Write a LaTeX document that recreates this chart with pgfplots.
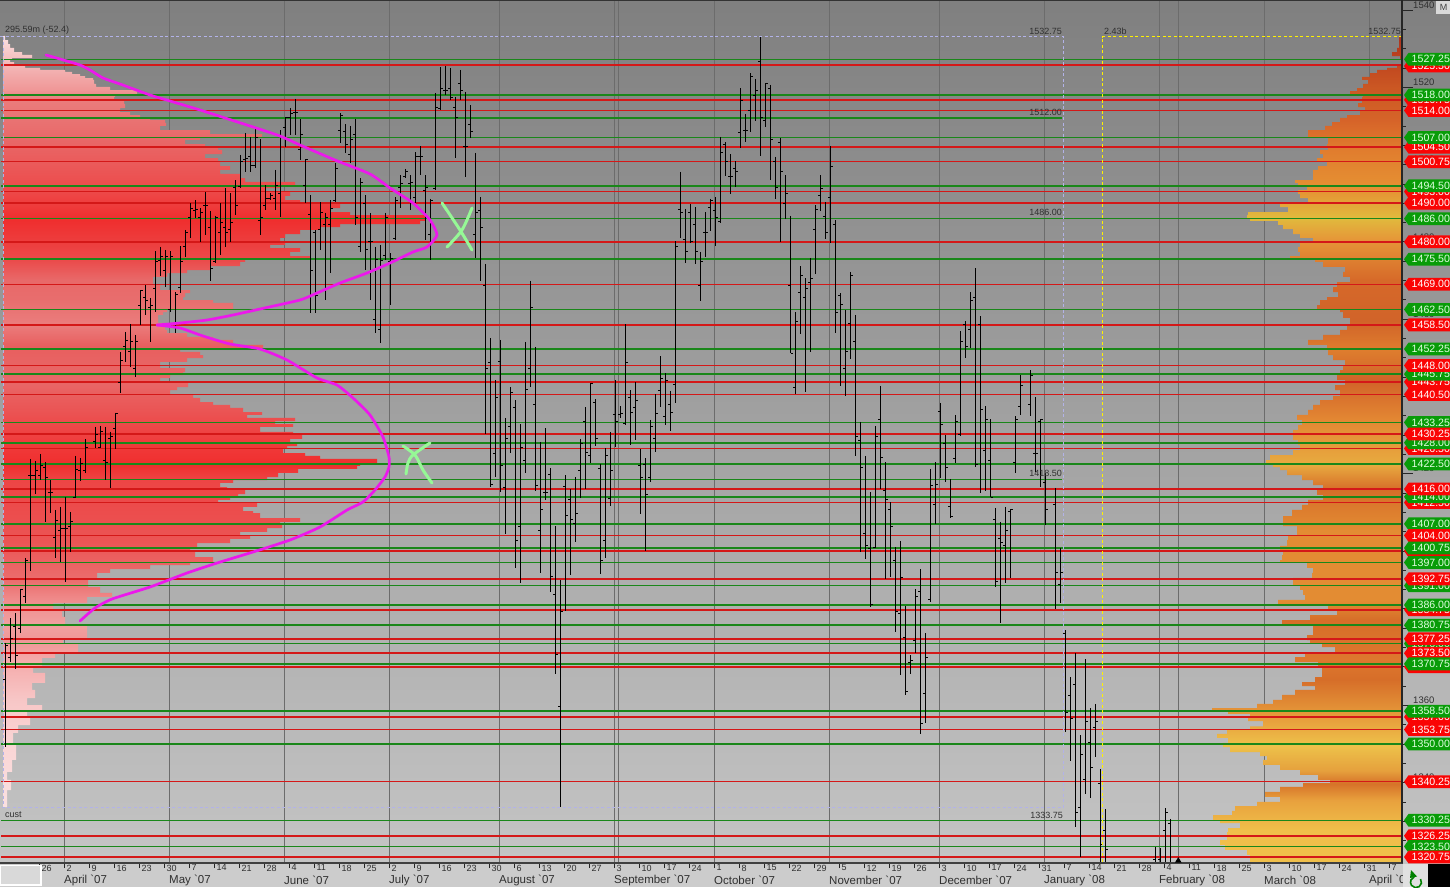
\documentclass[border=0pt]{standalone}
\usepackage{pgfplots}
\usepackage{pgfplotstable}
\usepackage{fontspec}
\setmainfont{Liberation Sans}
\pgfplotsset{compat=1.18}
\pgfdeclareverticalshading{bgshade}{100bp}{rgb(0bp)=(.77,.77,.77);rgb(25bp)=(.77,.77,.77);rgb(75bp)=(.50,.50,.50);rgb(100bp)=(.50,.50,.50)}
\pgfdeclareverticalshading{leftprof}{100bp}{rgb(0bp)=(.98,.88,.88);rgb(25bp)=(.98,.88,.88);rgb(28.7bp)=(.98,.84,.84);rgb(31.9bp)=(.97,.78,.78);rgb(34.5bp)=(.96,.67,.67);rgb(35.8bp)=(.94,.59,.59);rgb(36.8bp)=(.94,.63,.63);rgb(38.4bp)=(.94,.55,.55);rgb(39.7bp)=(.92,.43,.43);rgb(42.3bp)=(.92,.33,.33);rgb(46.2bp)=(.93,.27,.27);rgb(47.2bp)=(.94,.18,.18);rgb(48.8bp)=(.94,.24,.24);rgb(50.7bp)=(.92,.33,.33);rgb(52.7bp)=(.91,.41,.41);rgb(54.9bp)=(.91,.37,.37);rgb(56.3bp)=(.92,.49,.49);rgb(57.9bp)=(.91,.43,.43);rgb(59.2bp)=(.91,.41,.41);rgb(60.5bp)=(.92,.29,.29);rgb(63.1bp)=(.94,.18,.18);rgb(65bp)=(.93,.29,.29);rgb(68.3bp)=(.91,.41,.41);rgb(70.9bp)=(.92,.49,.49);rgb(71.5bp)=(.94,.59,.59);rgb(73.5bp)=(.96,.75,.75);rgb(75bp)=(.98,.88,.88);rgb(100bp)=(.98,.88,.88)}
\pgfdeclareverticalshading{rightprof}{100bp}{rgb(0bp)=(.94,.75,.29);rgb(27bp)=(.94,.75,.29);rgb(28.8bp)=(.91,.63,.24);rgb(29.8bp)=(.84,.45,.16);rgb(30.6bp)=(.90,.63,.24);rgb(32.1bp)=(.93,.76,.29);rgb(33.6bp)=(.91,.63,.24);rgb(36.1bp)=(.84,.43,.16);rgb(37.3bp)=(.87,.47,.18);rgb(39.7bp)=(.84,.43,.16);rgb(40.9bp)=(.89,.55,.20);rgb(45.1bp)=(.89,.55,.20);rgb(47.6bp)=(.84,.43,.16);rgb(49.1bp)=(.91,.67,.25);rgb(51.8bp)=(.89,.53,.20);rgb(54.2bp)=(.82,.39,.16);rgb(56bp)=(.87,.49,.18);rgb(57.8bp)=(.82,.39,.16);rgb(60.2bp)=(.84,.41,.16);rgb(62.7bp)=(.90,.59,.22);rgb(64bp)=(.88,.73,.24);rgb(65.7bp)=(.90,.57,.20);rgb(68.1bp)=(.88,.49,.18);rgb(69.9bp)=(.84,.39,.16);rgb(71.7bp)=(.80,.35,.14);rgb(73.5bp)=(.75,.27,.12);rgb(75bp)=(.67,.20,.12);rgb(100bp)=(.67,.20,.12)}
\definecolor{lvG}{RGB}{26,135,26}
\definecolor{lvR}{RGB}{212,24,24}
\definecolor{tagG}{RGB}{8,156,8}
\definecolor{tagR}{RGB}{250,4,4}
\definecolor{grd}{RGB}{108,108,108}
\definecolor{txt}{RGB}{48,48,48}
\definecolor{lav}{RGB}{178,178,232}
\definecolor{mag}{RGB}{236,24,236}
\definecolor{xgr}{RGB}{150,248,150}
\pgfplotstableread{
k H L O C
0 1376.1 1349.2 1366.6 1375.6
1 1382.6 1371.2 1372.5 1377.4
2 1383.9 1369.4 1380.5 1373.0
3 1390.1 1378.7 1380.0 1389.9
4 1398.2 1386.5 1388.1 1397.4
5 1423.8 1394.8 1419.4 1419.4
6 1423.3 1414.7 1419.6 1420.7
7 1425.1 1418.3 1419.6 1422.2
8 1423.0 1407.5 1421.7 1418.9
9 1418.3 1409.8 1415.0 1415.0
10 1410.6 1398.2 1403.6 1408.0
11 1411.4 1397.1 1405.4 1405.9
12 1413.9 1391.9 1405.9 1405.9
13 1410.1 1399.7 1406.4 1407.5
14 1424.6 1413.7 1413.9 1421.2
15 1424.0 1418.1 1420.9 1422.7
16 1429.0 1420.2 1420.7 1426.9
18 1432.1 1426.6 1428.4 1430.2
19 1432.3 1426.6 1426.9 1430.8
20 1432.1 1418.3 1423.3 1423.0
21 1430.8 1416.3 1429.2 1429.5
22 1435.7 1426.4 1431.8 1435.7
23 1451.5 1440.9 1443.7 1449.4
24 1456.7 1448.9 1453.0 1454.6
25 1458.7 1447.6 1451.5 1454.3
26 1455.9 1445.0 1447.3 1454.3
27 1467.5 1458.5 1463.6 1467.3
28 1468.8 1461.1 1465.5 1464.9
29 1465.5 1454.1 1462.9 1463.6
30 1477.6 1461.8 1468.0 1475.0
31 1478.7 1471.2 1475.3 1476.3
32 1477.9 1468.3 1472.7 1476.1
33 1477.6 1461.8 1462.4 1476.1
34 1467.0 1456.4 1457.9 1466.5
35 1478.9 1466.7 1468.3 1474.8
36 1483.1 1476.1 1478.7 1482.3
37 1490.0 1481.0 1486.2 1488.7
38 1490.8 1486.2 1488.2 1488.5
39 1488.7 1480.0 1486.4 1487.7
40 1492.9 1481.8 1489.5 1489.5
41 1488.0 1469.9 1483.6 1473.2
42 1486.7 1474.5 1474.8 1486.2
43 1490.0 1476.6 1482.5 1485.1
44 1493.9 1478.7 1483.6 1482.5
45 1492.6 1480.0 1483.1 1485.1
46 1496.0 1486.9 1494.2 1489.5
47 1502.5 1493.9 1494.4 1500.9
48 1508.2 1498.1 1501.2 1501.7
49 1507.1 1498.1 1502.2 1499.9
50 1509.7 1499.1 1499.9 1506.9
51 1506.6 1481.8 1485.6 1486.2
52 1494.7 1488.2 1489.5 1491.3
53 1492.6 1490.8 1491.3 1492.1
54 1498.6 1488.2 1491.3 1494.7
55 1508.9 1486.4 1492.6 1507.1
56 1512.3 1504.5 1509.7 1512.1
57 1514.6 1507.7 1512.3 1513.3
58 1517.0 1507.7 1513.6 1513.6
59 1511.8 1501.2 1503.8 1507.9
60 1501.4 1490.0 1494.7 1501.2
61 1492.1 1461.6 1487.2 1472.7
62 1483.1 1461.6 1482.5 1466.0
63 1490.3 1477.9 1483.1 1487.5
64 1487.5 1464.9 1484.4 1486.2
65 1490.8 1471.9 1484.4 1488.7
66 1500.4 1490.3 1490.6 1498.9
67 1513.3 1505.6 1508.9 1512.8
68 1510.5 1503.0 1508.7 1505.1
69 1510.0 1500.4 1502.5 1506.6
70 1511.8 1484.4 1507.7 1486.2
71 1496.5 1477.4 1478.7 1495.5
72 1492.1 1472.7 1490.0 1477.9
73 1487.5 1464.9 1480.2 1480.2
74 1478.7 1456.4 1459.8 1475.5
75 1479.2 1453.8 1457.2 1475.3
76 1487.5 1475.3 1476.6 1486.4
77 1477.1 1463.6 1474.8 1475.8
78 1491.6 1480.5 1481.0 1490.6
79 1497.3 1488.7 1494.2 1495.2
80 1498.9 1496.5 1497.0 1498.1
81 1497.3 1488.2 1495.2 1495.5
82 1503.2 1490.0 1491.6 1502.2
83 1504.8 1497.3 1502.0 1502.0
84 1497.3 1480.5 1493.4 1494.2
85 1491.1 1475.3 1481.8 1490.8
86 1518.5 1493.4 1493.7 1514.9
87 1525.3 1514.1 1514.6 1519.8
88 1525.5 1518.0 1519.3 1519.3
89 1525.0 1516.7 1519.8 1517.5
90 1517.5 1501.7 1514.9 1512.3
91 1524.5 1516.7 1521.1 1519.3
92 1518.8 1496.8 1504.8 1504.8
93 1515.4 1506.9 1510.5 1508.7
94 1503.0 1475.8 1481.8 1487.7
95 1491.6 1469.9 1488.2 1483.8
96 1474.3 1430.2 1468.6 1447.3
97 1455.1 1416.5 1448.9 1417.3
98 1444.2 1419.1 1425.1 1439.8
99 1454.6 1415.2 1449.1 1422.2
100 1434.4 1404.4 1416.5 1429.2
101 1442.4 1425.4 1432.3 1440.9
102 1439.0 1395.6 1437.2 1402.8
103 1432.8 1391.7 1406.2 1426.9
104 1454.1 1420.2 1423.5 1441.9
105 1469.9 1442.4 1447.3 1463.1
106 1452.8 1415.5 1437.8 1417.0
107 1428.2 1394.3 1405.4 1410.6
108 1431.8 1413.2 1415.0 1415.0
109 1421.4 1389.4 1419.9 1393.5
110 1406.4 1368.1 1388.8 1373.3
111 1392.5 1333.7 1359.6 1384.2
112 1419.6 1384.4 1416.8 1409.3
113 1416.0 1393.8 1413.2 1408.2
114 1419.1 1402.3 1407.2 1409.8
115 1429.0 1413.7 1420.9 1427.7
116 1437.2 1416.0 1433.4 1425.6
117 1443.4 1422.7 1424.8 1443.4
118 1439.3 1427.1 1438.5 1429.2
119 1422.5 1394.0 1421.4 1397.6
120 1426.6 1398.2 1402.6 1424.8
121 1430.8 1411.6 1413.7 1420.7
122 1444.2 1426.9 1435.4 1433.4
123 1437.5 1434.4 1435.2 1435.7
124 1458.7 1432.6 1433.1 1448.9
125 1441.6 1427.4 1439.8 1435.9
126 1443.7 1428.7 1437.2 1439.0
127 1426.4 1409.5 1422.0 1419.1
128 1424.0 1400.0 1422.5 1414.7
129 1433.9 1417.8 1418.9 1432.1
130 1440.6 1425.6 1429.2 1435.7
131 1450.4 1437.2 1441.4 1444.7
132 1446.0 1432.6 1434.9 1444.0
133 1441.4 1431.0 1438.0 1435.9
134 1480.2 1438.3 1443.2 1478.9
135 1498.1 1481.0 1488.5 1487.5
136 1488.5 1474.5 1480.5 1477.4
137 1489.8 1479.7 1487.7 1480.2
138 1489.0 1474.3 1484.4 1477.4
139 1477.4 1464.7 1468.6 1474.8
140 1487.7 1476.1 1482.5 1482.3
141 1491.1 1482.8 1489.0 1490.8
142 1491.6 1478.9 1488.2 1486.2
143 1507.1 1484.9 1485.4 1503.2
144 1505.8 1497.0 1505.3 1500.7
145 1502.7 1492.4 1496.8 1496.8
146 1500.9 1494.2 1499.1 1498.1
147 1519.8 1504.3 1508.4 1516.7
148 1513.1 1505.8 1508.9 1508.9
149 1523.7 1508.4 1514.1 1522.9
150 1522.2 1511.3 1518.0 1519.3
151 1533.0 1502.2 1526.8 1512.1
152 1521.1 1509.7 1511.5 1520.9
153 1520.6 1496.0 1519.8 1506.6
154 1502.0 1491.1 1500.7 1494.2
155 1506.9 1479.9 1505.8 1498.3
156 1497.3 1485.9 1490.0 1492.6
157 1486.7 1451.2 1468.8 1451.2
158 1461.8 1440.6 1442.2 1459.5
159 1473.7 1456.1 1467.0 1471.2
160 1470.6 1441.1 1465.5 1468.0
161 1475.8 1451.5 1469.6 1470.6
162 1489.5 1471.7 1483.3 1488.5
163 1497.3 1488.0 1492.1 1493.7
164 1490.3 1480.7 1486.7 1482.3
165 1504.8 1479.7 1491.6 1499.4
166 1485.6 1456.4 1484.6 1461.8
167 1466.7 1442.7 1466.2 1463.9
168 1462.3 1440.1 1447.1 1451.5
169 1472.2 1449.7 1459.0 1471.2
170 1461.1 1424.6 1454.1 1429.5
171 1433.4 1399.7 1428.7 1421.7
172 1424.6 1397.9 1404.6 1401.3
173 1415.2 1385.5 1400.7 1386.2
174 1432.3 1400.7 1401.0 1429.5
175 1442.7 1416.0 1433.9 1424.3
176 1423.0 1392.7 1415.7 1413.2
177 1412.6 1393.2 1410.8 1406.4
178 1401.0 1379.0 1397.6 1384.4
179 1402.6 1367.9 1383.7 1393.0
180 1385.7 1362.7 1377.7 1363.5
181 1373.0 1368.1 1371.2 1371.7
182 1390.1 1373.6 1376.7 1388.1
183 1395.3 1352.6 1389.6 1355.2
184 1378.7 1355.4 1363.2 1372.5
185 1421.2 1386.8 1387.3 1417.0
186 1423.0 1406.9 1412.1 1417.3
187 1438.3 1418.9 1436.2 1432.6
188 1430.0 1417.8 1427.7 1421.7
189 1418.6 1408.5 1411.6 1409.0
190 1435.2 1422.7 1424.0 1433.4
191 1456.9 1429.7 1430.2 1454.1
192 1459.5 1449.9 1458.5 1452.8
193 1467.0 1452.5 1457.2 1464.7
194 1473.2 1421.7 1465.5 1422.5
195 1460.8 1415.0 1458.5 1436.7
196 1437.5 1415.5 1426.1 1434.1
197 1434.1 1413.9 1423.3 1413.9
198 1411.1 1390.6 1408.2 1392.2
199 1407.5 1381.3 1403.3 1402.3
200 1411.4 1391.7 1401.3 1405.4
201 1410.8 1393.0 1410.3 1410.6
202 1434.9 1420.2 1423.0 1433.9
203 1445.5 1435.2 1437.5 1442.9
205 1446.8 1434.9 1437.8 1445.5
206 1439.8 1420.4 1425.3 1425.3
207 1434.1 1416.5 1433.6 1433.9
208 1420.2 1406.7 1417.8 1410.6
210 1416.3 1385.0 1411.9 1394.5
211 1400.7 1386.5 1391.2 1394.5
212 1379.5 1353.1 1378.5 1358.3
213 1367.3 1345.6 1362.7 1356.7
214 1373.6 1328.5 1365.5 1332.4
215 1352.3 1320.7 1333.7 1347.2
216 1372.0 1337.1 1340.9 1355.9
217 1359.3 1336.0 1350.5 1344.0
218 1360.4 1346.6 1354.4 1355.9
219 1343.5 1317.4 1339.9 1324.1
220 1333.2 1314.8 1327.7 1322.6
230 1323.3 1314.8 1320.0 1317.4
231 1323.1 1314.8 1320.0 1317.4
232 1333.4 1314.8 1327.7 1332.4
233 1330.6 1314.8 1329.5 1316.0
}\bars
\pgfplotstableread{
p x
1533.3 3.5
1533.3 4
1532.2 5
1531.2 8
1530.2 10
1529.1 14
1528.4 22
1527.6 32
1527.1 12
1526.5 10
1525.8 14
1525.0 25
1524.5 40
1524.0 65
1523.4 72
1522.9 80
1522.4 85
1521.9 93
1520.9 94
1520.1 96
1519.3 110
1518.3 137
1517.5 115
1516.7 114
1515.7 124
1514.6 125
1513.6 120
1512.8 130
1512.3 140
1511.5 150
1510.8 165
1510.0 166
1508.9 160
1507.9 210
1507.1 262
1506.4 200
1505.3 185
1504.5 205
1503.8 218
1502.7 222
1501.7 205
1500.7 218
1499.6 220
1498.6 230
1497.6 220
1496.5 240
1495.5 245
1494.7 295
1493.9 280
1492.9 265
1491.9 290
1490.8 285
1489.8 300
1488.7 340
1487.7 330
1486.9 350
1486.2 425
1485.4 425
1484.6 420
1483.8 340
1483.1 320
1482.0 300
1481.0 285
1480.0 280
1479.2 285
1478.4 270
1477.4 300
1476.3 290
1475.5 310
1474.8 245
1473.7 240
1472.7 210
1471.9 187
1470.9 167
1468.8 153
1467.5 160
1466.7 190
1465.7 185
1464.9 183
1464.2 213
1463.1 233
1462.6 233
1461.8 167
1461.1 163
1459.0 158
1457.2 165
1456.4 167
1455.4 187
1454.6 213
1453.3 233
1452.5 263
1451.5 180
1450.7 200
1449.9 203
1448.9 187
1448.1 160
1447.3 160
1446.3 185
1445.5 183
1444.7 170
1443.7 160
1442.4 188
1441.6 177
1440.3 170
1439.6 193
1438.5 200
1437.8 213
1437.0 230
1435.9 243
1435.2 262
1434.4 247
1433.6 295
1432.8 275
1432.1 293
1430.8 260
1430.0 293
1429.0 302
1427.9 290
1427.1 297
1426.4 287
1425.3 283
1424.6 305
1423.8 320
1422.7 377
1422.0 360
1421.2 357
1420.2 298
1419.1 278
1418.3 267
1417.6 233
1416.5 220
1415.7 227
1414.7 245
1413.9 238
1413.2 230
1412.4 218
1411.4 257
1410.3 243
1409.8 253
1408.5 260
1407.5 300
1406.7 280
1405.9 282
1404.9 267
1404.1 240
1403.1 250
1402.0 230
1401.0 197
1399.7 190
1398.4 195
1397.1 213
1396.3 190
1395.3 150
1394.3 110
1392.5 97
1390.6 88
1389.1 100
1388.1 112
1386.5 87
1384.7 53
1382.9 62
1380.8 65
1379.0 87
1377.4 87
1376.1 63
1373.8 78
1372.3 55
1369.9 42
1368.4 33
1365.8 45
1364.0 32
1361.9 35
1360.1 27
1358.3 42
1356.7 27
1354.9 30
1352.9 18
1350.0 13
1348.4 16
1345.9 16
1342.8 12
1340.7 7
1338.1 11
1335.5 7
1333.7 7
1333.7 3.5
}\leftprofile
\pgfplotstableread{
p x
1533.3 1402
1533.3 1400
1530.2 1399
1529.1 1397
1528.1 1392
1527.1 1400
1525.8 1401
1525.0 1397
1524.5 1387
1523.7 1377
1522.7 1370
1521.9 1362
1520.9 1368
1519.8 1363
1519.0 1357
1518.3 1350
1517.5 1363
1515.9 1362
1514.9 1358
1513.9 1365
1512.8 1360
1512.1 1347
1511.0 1340
1510.0 1332
1508.9 1325
1507.7 1308
1507.1 1308
1506.4 1328
1505.3 1328
1504.5 1327
1503.8 1328
1502.7 1320
1501.7 1323
1500.7 1317
1499.6 1327
1498.6 1318
1497.3 1313
1496.0 1313
1495.2 1295
1494.4 1298
1493.4 1307
1492.4 1298
1491.3 1300
1490.3 1308
1489.0 1280
1487.7 1288
1486.9 1248
1486.2 1247
1485.4 1250
1484.4 1278
1483.3 1283
1482.0 1293
1481.0 1300
1479.7 1313
1478.7 1300
1477.4 1298
1476.3 1300
1475.5 1290
1474.8 1315
1473.5 1323
1472.2 1345
1470.9 1343
1469.6 1350
1468.3 1337
1467.0 1333
1465.7 1338
1464.9 1327
1463.6 1320
1462.6 1317
1461.8 1340
1460.3 1343
1458.7 1350
1457.2 1347
1455.9 1340
1454.6 1323
1453.3 1308
1452.0 1327
1450.7 1328
1449.4 1333
1448.1 1345
1446.8 1343
1445.5 1340
1444.2 1337
1442.9 1345
1441.6 1335
1440.1 1340
1439.0 1333
1437.8 1320
1436.5 1313
1435.2 1308
1433.9 1297
1432.6 1302
1431.3 1298
1430.0 1293
1428.7 1293
1427.4 1298
1426.1 1300
1424.8 1293
1423.5 1270
1422.5 1266
1421.7 1273
1420.9 1280
1419.6 1287
1418.3 1302
1417.0 1313
1415.7 1323
1414.5 1317
1413.2 1323
1411.9 1308
1410.6 1302
1409.0 1292
1407.5 1283
1406.4 1283
1405.4 1297
1404.1 1297
1402.8 1288
1401.3 1287
1400.2 1280
1398.9 1283
1397.6 1282
1396.9 1280
1395.6 1307
1394.3 1313
1393.0 1312
1391.2 1293
1389.9 1300
1388.6 1303
1387.3 1305
1386.0 1278
1385.0 1328
1383.4 1337
1382.1 1310
1380.8 1282
1379.5 1313
1378.2 1313
1376.9 1307
1376.1 1310
1375.1 1322
1373.8 1335
1372.5 1305
1371.2 1295
1369.9 1318
1368.6 1322
1367.3 1322
1366.0 1315
1365.0 1302
1364.0 1315
1362.7 1295
1361.4 1282
1360.4 1273
1359.3 1257
1358.5 1212
1357.8 1228
1357.0 1250
1355.9 1248
1354.6 1263
1353.6 1250
1352.6 1227
1351.6 1217
1350.3 1228
1349.2 1223
1347.9 1230
1346.9 1260
1345.9 1267
1344.6 1263
1343.3 1280
1342.0 1300
1340.7 1318
1339.9 1330
1338.9 1303
1337.6 1280
1336.3 1265
1335.0 1280
1333.9 1257
1332.7 1235
1331.6 1232
1330.3 1213
1329.5 1220
1328.2 1240
1327.2 1228
1326.2 1227
1325.1 1227
1323.9 1220
1322.6 1225
1321.3 1247
1320.0 1250
1319.2 1250
1319.2 1402
}\rightprofile
\pgfplotstableread{
p
1527.25
1518.00
1507.00
1494.50
1486.00
1475.50
1462.50
1452.25
1445.75
1433.25
1428.00
1422.50
1414.00
1407.00
1400.75
1397.00
1391.00
1386.00
1380.75
1376.00
1370.75
1358.50
1350.00
1330.25
1323.50
}\greenlv
\pgfplotstableread{
p
1525.75
1516.75
1514.00
1504.50
1500.75
1493.00
1490.00
1480.00
1469.00
1458.50
1448.00
1443.75
1440.50
1430.25
1426.50
1416.00
1412.50
1404.00
1400.00
1392.75
1384.75
1377.25
1373.50
1370.00
1357.00
1353.75
1340.25
1326.25
1320.75
}\redlv
\newcommand{\priceY}[1]{\pgfmathsetmacro{\py}{(1542.6-#1)*3.863}}
\newcommand{\tagBox}[3]{\priceY{#2}\fill[#1] (1404,\py) -- (1408.5,\py-6.4) -- (1450,\py-6.4) -- (1450,\py+6.4) -- (1408.5,\py+6.4) -- cycle;
\node[anchor=west,inner sep=0,text=#3,font=\fontsize{10.6}{11}\selectfont] at (1411.5,\py) {#2};}
\newcommand{\tagR}[1]{\tagBox{tagR}{#1}{white}}
\newcommand{\tagG}[1]{\tagBox{tagG}{#1}{green!12!white}}
\newcommand{\mon}[2]{\node[anchor=west,inner sep=0,text=txt,font=\fontsize{11.5}{12}\selectfont] at (#1,880) {#2};}
\begin{document}
\begin{tikzpicture}
\path[use as bounding box] (0pt,0pt) rectangle (1450pt,-887pt);
\fill[black!20] (0pt,-862pt) rectangle (1450pt,-887pt);
\begin{axis}[
  at={(0pt,0pt)},anchor=north west,scale only axis,width=1450pt,height=863pt,
  xmin=0,xmax=1450,ymin=1319.2,ymax=1542.6,
  axis background/.style={shade,shading=bgshade},
  axis line style={draw=none},
  ytick=\empty,tick pos=bottom,tick align=outside,major tick length=5pt,
  tick style={black!85,line width=0.8pt},
  xtick={39.3,64.3,89.3,114.3,139.3,164.3,189.3,214.3,239.3,264.3,289.3,314.3,339.3,364.3,389.3,414.3,439.3,464.3,489.3,514.3,539.3,564.3,589.3,614.3,639.3,664.3,689.3,714.3,739.3,764.3,789.3,814.3,839.3,864.3,889.3,914.3,939.3,964.3,989.3,1014.3,1039.3,1064.3,1089.3,1114.3,1139.3,1164.3,1189.3,1214.3,1239.3,1264.3,1289.3,1314.3,1339.3,1364.3,1389.3},
  xticklabels={26,2,9,16,23,30,7,14,21,28,4,11,18,25,2,9,16,23,30,6,13,20,27,3,10,17,24,1,8,15,22,29,5,12,19,26,3,10,17,24,31,7,14,21,28,4,11,18,25,3,10,17,24,31,7},
  x tick label style={anchor=north west,inner sep=0pt,xshift=2pt,yshift=3.5pt,text=txt,font=\fontsize{9}{9}\selectfont},
  extra x ticks={64.3,169.3,284.3,389.3,499.3,614.3,618.3,714.3,829.3,939.3,1044.3,1159.3,1178.3,1264.3,1369.3},
  extra x tick labels={},
  extra x tick style={grid=major,major tick length=0pt,major grid style={draw=grd,line width=0.9pt}},
  clip=true,
]
\addplot[draw=none,shade,shading=leftprof,const plot mark left] table[x=x,y=p] {\leftprofile} --cycle;
\addplot[draw=none,shade,shading=rightprof,const plot mark left] table[x=x,y=p] {\rightprofile} --cycle;
\addplot[draw=none,mark=none,error bars/.cd,x dir=both,x fixed=700.5,error mark=none,error bar style={draw=lvG,line width=1.6pt}] table[x expr=701.5,y=p] {\greenlv};
\addplot[draw=none,mark=none,error bars/.cd,x dir=both,x fixed=700.5,error mark=none,error bar style={draw=lvR,line width=1.6pt}] table[x expr=701.5,y=p] {\redlv};
\addplot[draw=lvG,line width=1.6pt] coordinates {(1,1512.00)(1062,1512.00)};
\addplot[draw=lvG,line width=1.6pt] coordinates {(1,1418.50)(1062,1418.50)};
\addplot[draw=none,mark=none,error bars/.cd,y dir=minus,y explicit,error mark=none,error bar style={draw=black,line width=1.05pt}] table[x expr=5.5+5*\thisrow{k},y=H,y error minus expr=\thisrow{H}-\thisrow{L}] {\bars};
\addplot[draw=none,mark=none,error bars/.cd,x dir=minus,x fixed=2.4,error mark=none,error bar style={draw=black,line width=0.9pt}] table[x expr=5.5+5*\thisrow{k},y=O] {\bars};
\addplot[draw=none,mark=none,error bars/.cd,x dir=plus,x fixed=2.4,error mark=none,error bar style={draw=black,line width=0.9pt}] table[x expr=5.5+5*\thisrow{k},y=C] {\bars};
\end{axis}
\begin{scope}[x=1pt,y=-1pt]
\draw[black!80,line width=0.8pt] (0,0.4) -- (1450,0.4);
\draw[black!75,line width=1.4pt] (0,863) -- (1403,863);
% month names
\mon{64}{April {\textasciigrave}07}\mon{169}{May {\textasciigrave}07}\mon{284}{June {\textasciigrave}07}\mon{389}{July {\textasciigrave}07}\mon{499}{August {\textasciigrave}07}\mon{614}{September {\textasciigrave}07}\mon{714}{October {\textasciigrave}07}\mon{829}{November {\textasciigrave}07}\mon{939}{December {\textasciigrave}07}\mon{1044}{January {\textasciigrave}08}\mon{1159}{February {\textasciigrave}08}\mon{1264}{March {\textasciigrave}08}\mon{1369}{April {\textasciigrave}08}
% dashed guides
\draw[lav,dash pattern=on 3pt off 2.5pt,line width=0.8pt] (0,36.5) -- (1063.3,36.5) -- (1063.3,807.5) -- (0,807.5);
\draw[lav,dash pattern=on 3pt off 2.5pt,line width=0.8pt] (3.5,36.5) -- (3.5,807.5);
\draw[yellow,dash pattern=on 3pt off 2.5pt,line width=0.9pt] (1402,36.5) -- (1102.4,36.5) -- (1102.4,862);
% right axis
\draw[black!85,line width=1.1pt] (1402,0) -- (1402,863);
\foreach \v in {1325,1330,...,1540}{\pgfmathsetmacro{\py}{(1542.6-\v)*3.863}\draw[black!85,line width=0.7pt] (1402,\py) -- (1406,\py);}
\foreach \v in {1340,1360,...,1540}{\pgfmathsetmacro{\py}{(1542.6-\v)*3.863}\draw[black!85,line width=0.7pt] (1402,\py) -- (1413,\py);
\node[anchor=west,inner sep=0,text=txt,font=\fontsize{9.5}{10}\selectfont] at (1413,\py-5) {\v};}
% texts
\begin{scope}[every node/.style={inner sep=0,text=txt,font=\fontsize{9}{10}\selectfont}]
\node[anchor=west] at (5,30.5) {295.59m (-52.4)};
\node[anchor=west] at (5,815) {cust};
\node[anchor=east] at (1062,31) {1532.75};
\node[anchor=east] at (1062,112) {1512.00};
\node[anchor=east] at (1062,212.5) {1486.00};
\node[anchor=east] at (1062,473.5) {1418.50};
\node[anchor=east] at (1063,815) {1333.75};
\node[anchor=west] at (1104,31) {2.43b};
\node[anchor=east] at (1401,31) {1532.75};
\end{scope}
% hand-drawn annotations
\draw[mag,line width=2.7pt,line join=round,line cap=round] plot[smooth,tension=0.35] coordinates {(46,55)(60,59)(80,65)(90,70)(103,78)(120,84)(150,95)(170,101)(200,110)(250,126)(280,136)(300,145)(335,160)(370,174)(390,188)(413,203)(430,220)(437,235)(427,247)(413,252)(390,263)(367,273)(340,283)(317,293)(300,300)(260,309)(233,315)(207,320)(180,323)(157,325)};
\draw[mag,line width=2.7pt,line join=round,line cap=round] plot[smooth,tension=0.35] coordinates {(157,325)(180,328)(203,336)(230,344)(260,349)(287,360)(317,378)(337,385)(353,398)(370,415)(383,437)(389,457)(389,467)(385,477)(375,490)(363,502)(347,510)(320,527)(290,540)(253,552)(217,563)(187,573)(150,587)(112,599)(95,608)(80,621)};
\draw[xgr,line width=3pt,line cap=round] plot[smooth] coordinates {(442,203)(460,230)(472,250)};
\draw[xgr,line width=3pt,line cap=round] plot[smooth] coordinates {(472,208)(462,230)(447,247)};
\draw[xgr,line width=3pt,line cap=round] plot[smooth] coordinates {(403,446)(415,455)(423,470)(432,483)};
\draw[xgr,line width=3pt,line cap=round] plot[smooth] coordinates {(430,443)(413,455)(408,463)(406,474)};
\fill[black] (1175,862.5) -- (1178.3,857) -- (1181.5,862.5) -- cycle;
% tags, hidden ones first
\tagR{1525.50}\tagR{1516.75}\tagR{1493.00}\tagR{1504.50}\tagR{1443.75}\tagG{1445.75}\tagR{1426.50}\tagG{1428.00}\tagR{1412.50}\tagG{1414.00}\tagR{1400.00}\tagG{1391.00}\tagR{1384.75}\tagG{1376.00}\tagR{1370.00}\tagR{1357.00}
\tagG{1527.25}\tagG{1518.00}\tagR{1514.00}\tagG{1507.00}\tagR{1500.75}\tagG{1494.50}\tagR{1490.00}\tagG{1486.00}\tagR{1480.00}\tagG{1475.50}\tagR{1469.00}\tagG{1462.50}\tagR{1458.50}\tagG{1452.25}\tagR{1448.00}\tagR{1440.50}\tagG{1433.25}\tagR{1430.25}\tagG{1422.50}\tagR{1416.00}\tagG{1407.00}\tagR{1404.00}\tagG{1400.75}\tagG{1397.00}\tagR{1392.75}\tagG{1386.00}\tagG{1380.75}\tagR{1377.25}\tagR{1373.50}\tagG{1370.75}\tagG{1358.50}\tagR{1353.75}\tagG{1350.00}\tagR{1340.25}\tagG{1330.25}\tagR{1326.25}\tagG{1323.50}\tagR{1320.75}
% M button
\fill[white!85!black] (1436,1) rectangle (1450,14);
\node[inner sep=0,text=black!75,font=\fontsize{9}{10}\selectfont] at (1443.5,7.5) {M};
% corner boxes
\fill[black] (1428,864) rectangle (1450,887);
\fill[black!12] (1403,864) rectangle (1428,887);
\draw[green!50!black,line width=1.6pt] (1420.5,879) arc[start angle=-35,end angle=250,radius=5.5];
\fill[green!50!black] (1411,870) -- (1417,876.5) -- (1410,878) -- cycle;
\fill[black!15] (0,865) rectangle (41,885);
\draw[white,line width=1.2pt] (0.5,865.5) rectangle (41,885);
\end{scope}
\end{tikzpicture}
\end{document}
